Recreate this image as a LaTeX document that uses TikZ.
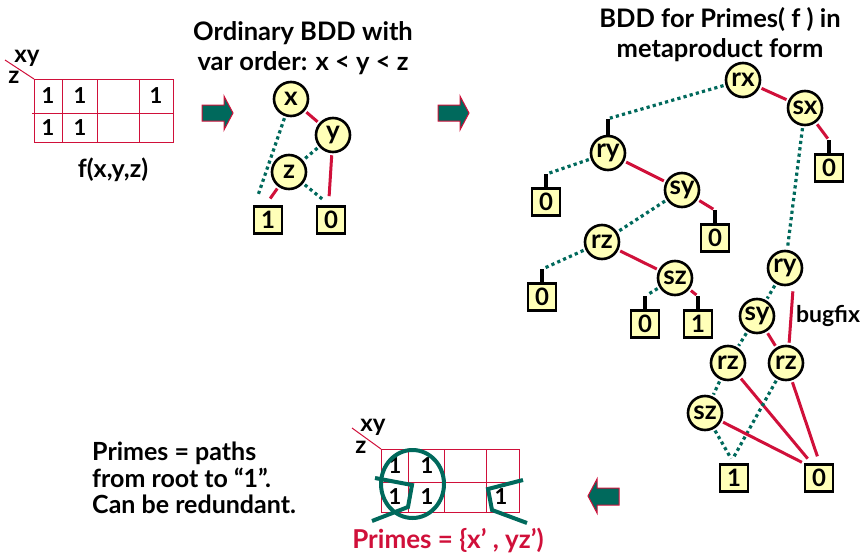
\documentclass[tikz,border=0pt]{standalone}
\usepackage{fontspec}
\setmainfont{Lato}
\usetikzlibrary{calc}
\definecolor{bddred}{HTML}{D0103A}
\definecolor{bddteal}{HTML}{00695C}
\definecolor{nodefill}{HTML}{FFFFB8}
\tikzset{
  vnode/.style={circle, draw=black, line width=2.6pt, fill=nodefill, minimum size=34pt, inner sep=0pt,
    font=\fontsize{26}{26}\selectfont\bfseries},
  term/.style={rectangle, draw=black, line width=2.6pt, fill=nodefill, minimum width=28pt,
    minimum height=27pt, inner sep=0pt, font=\fontsize{24}{24}\selectfont\bfseries},
  hi/.style={draw=bddred, line width=3pt, shorten <=2pt, shorten >=2pt},
  lo/.style={draw=bddteal, line width=3.2pt, dash pattern=on 3.2pt off 3.2pt, shorten <=2pt, shorten >=2pt},
  stem/.style={draw=black, line width=3.5pt},
  grid/.style={draw=bddred, line width=1pt},
  lbl/.style={font=\fontsize{24}{26}\selectfont\bfseries, inner sep=0pt},
  title/.style={font=\fontsize{25.5}{30}\selectfont\bfseries, align=center, inner sep=0pt},
  blockarrow/.style={fill=bddteal, draw=bddred, line width=1pt, line join=miter},
  ring/.style={draw=bddteal, line width=4pt},
}
\begin{document}
\begin{tikzpicture}[x=1pt, y=-1pt]
\useasboundingbox (0,0) rectangle (863,554);

% ---- Karnaugh map of f ----
\draw[grid] (5,60) -- (34,79);
\node[lbl] (kxy) at (27,58) {xy};
\node[lbl] (kz) at (14,77) {z};
\draw[grid] (34,79) rectangle (173,142);
\draw[grid] (32,113) -- (173,113);
\foreach \cx in {62,97,139} \draw[grid] (\cx,79) -- (\cx,142);
\foreach \cx/\cy in {48/96, 80/96, 156/96, 48/128, 80/128}
  \node[lbl, font=\fontsize{22}{22}\selectfont\bfseries] at (\cx,\cy) {1};
\node[lbl, font=\fontsize{25}{25}\selectfont\bfseries] (fxyz) at (113,170) {f(x,y,z)};

% ---- block arrows ----
\filldraw[blockarrow] (202,105) -- (224,105) -- (224,96) -- (233,113) -- (224,130) -- (224,121) -- (202,121) -- cycle;
\filldraw[blockarrow] (438,105) -- (460,105) -- (460,96) -- (469,113) -- (460,130) -- (460,121) -- (438,121) -- cycle;
\filldraw[blockarrow] (619,488) -- (597,488) -- (597,479) -- (588,496) -- (597,513) -- (597,505) -- (619,505) -- cycle;

% ---- ordinary BDD ----
\node[title] (t1) at (303,48) {Ordinary BDD with\\var order: x < y < z};
\node[vnode] (x) at (291,99) {x};
\node[vnode] (y) at (333,135) {y};
\node[vnode] (z) at (289,172) {z};
\node[term] (one) at (268,220) {1};
\node[term] (zero) at (331,220) {0};
\draw[hi] (x) -- (y);
\draw[lo] (x) -- ([xshift=-11pt,yshift=7pt]one.north);
\draw[lo] (y) -- (z);
\draw[hi] (y) -- ([xshift=-2pt,yshift=7pt]zero.north);
\draw[hi] (z) -- ([xshift=1pt,yshift=5pt]one.north);
\draw[lo] (z) -- ([xshift=-6pt,yshift=4pt]zero.north);

% ---- BDD of the primes, metaproduct form ----
\node[title] (t2) at (720,35) {BDD for Primes( f ) in\\metaproduct form};
\node[vnode] (rx) at (743,80) {rx};
\node[vnode] (sx) at (805,108) {sx};
\node[term] (sx0) at (829,168) {0};
\node[vnode] (ry) at (608,153) {ry};
\node[term] (ry0) at (546,202) {0};
\node[vnode] (sy) at (682,190) {sy};
\node[term] (sy0) at (715,238) {0};
\node[vnode] (rz) at (602,242) {rz};
\node[term] (rz0) at (542,297) {0};
\node[vnode] (sz) at (675,278) {sz};
\node[term] (sz0) at (645,324) {0};
\node[term] (sz1) at (698,324) {1};

\coordinate (rytop) at ([yshift=16pt]ry.north);
\foreach \b in {sx0,ry0,sy0,rz0,sz0,sz1}
  \coordinate (\b top) at ([yshift=13pt]\b.north);
\draw[stem] (rytop) -- (ry.north);
\foreach \b in {sx0,ry0,sy0,rz0,sz0,sz1}
  \draw[stem] (\b top) -- (\b.north);

\draw[hi] (rx) -- (sx);
\draw[lo] (rx) -- (rytop);
\draw[hi] (sx) -- (sx0top);
\draw[hi] (ry) -- (sy);
\draw[lo] (ry) -- (ry0top);
\draw[hi] (sy) -- (sy0top);
\draw[lo] (sy) -- (rz);
\draw[hi] (rz) -- (sz);
\draw[lo] (rz) -- (rz0top);
\draw[hi] (sz) -- (sz1top);
\draw[lo] (sz) -- (sz0top);

% shared lower part
\node[vnode] (ry2) at (785,268) {ry};
\node[vnode] (sy2) at (757,316) {sy};
\node[vnode] (rz2) at (728,363) {rz};
\node[vnode] (rz3) at (786,363) {rz};
\node[vnode] (sz2) at (705,413) {sz};
\node[term] (b1) at (734,478) {1};
\node[term] (b0) at (819,478) {0};
\node[lbl, font=\fontsize{23}{23}\selectfont\bfseries] (bugfix) at (828,316) {bugfix};

\draw[lo] (sx) -- (ry2);
\draw[lo] (ry2) -- (sy2);
\draw[hi] ([xshift=8pt,yshift=-3pt]ry2.south) -- ([xshift=3pt]rz3.north);
\draw[lo] (sy2) -- (rz2);
\draw[hi] (sy2) -- (rz3);
\draw[lo] (rz2) -- (sz2);
\draw[hi] (rz2) -- ([xshift=-10pt,yshift=3pt]b0.north);
\draw[lo] (rz3) -- ([xshift=-2pt,yshift=3pt]b1.north);
\draw[hi] (rz3) -- ([xshift=-1pt,yshift=5pt]b0.north);
\draw[lo] (sz2) -- ([xshift=-2pt,yshift=3pt]b1.north);
\draw[hi] (sz2) -- (b0.north west);

% ---- caption ----
\node[lbl, align=left, anchor=west, font=\fontsize{25}{26.5}\selectfont\bfseries] (cap) at (92,478)
  {Primes = paths\\from root to “1”.\\Can be redundant.};

% ---- Karnaugh map with the primes circled ----
\draw[grid] (352,428) -- (381,449);
\node[lbl] (kxy2) at (373,427) {xy};
\node[lbl] (kz2) at (361,447) {z};
\draw[grid] (381,449) rectangle (519,512);
\draw[grid] (381,482) -- (519,482);
\foreach \cx in {408,444,486} \draw[grid] (\cx,449) -- (\cx,512);
\foreach \cx/\cy in {395/466, 427/466, 395/497, 427/497, 501/497}
  \node[lbl, font=\fontsize{22}{22}\selectfont\bfseries] at (\cx,\cy) {1};
\draw[ring] (412.5,484) ellipse [x radius=31.5pt, y radius=34pt];
\draw[ring] (375,478) -- (412,485) -- (408,507) -- (372,521);
\draw[ring] (523,480) -- (488,489) -- (492,510) -- (527,523);
\node[lbl, text=bddred, font=\fontsize{26}{26}\selectfont\bfseries] (primes) at (448,540) {Primes = \{x’ , yz’)};
\end{tikzpicture}
\end{document}
